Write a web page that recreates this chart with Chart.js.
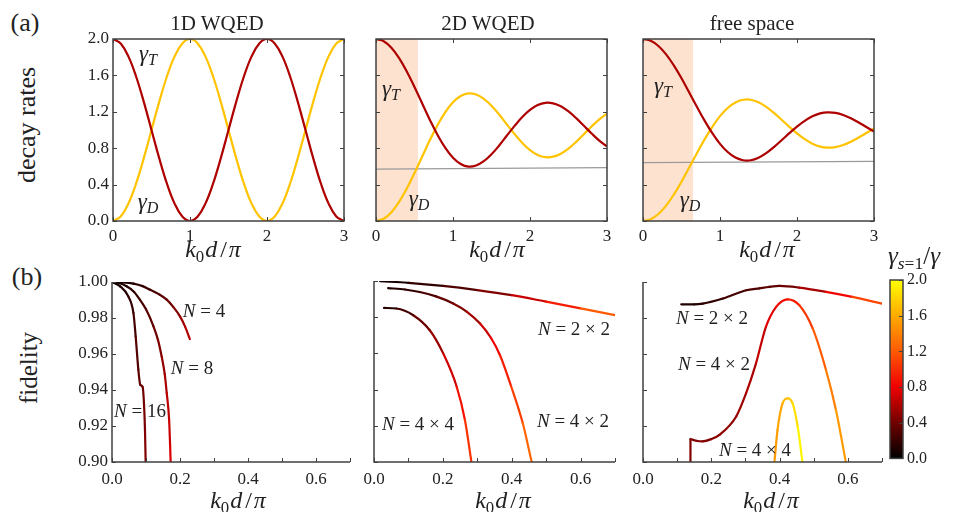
<!DOCTYPE html>
<html>
<head>
<meta charset="utf-8">
<script src="https://cdn.jsdelivr.net/npm/chart.js@4.4.1/dist/chart.umd.min.js"></script>
<style>
  body { margin: 0; background: #fff; }
  #wrap { position: relative; width: 958px; height: 512px; overflow: hidden; background: #fff;
          font-family: 'Liberation Serif', 'Times New Roman', serif; color: #222; }
  canvas { position: absolute; }
  .lbl { position: absolute; white-space: nowrap; transform: translate(-50%, -50%); line-height: 1; }
  .lbl i { font-style: italic; }
  .lbl sub { font-size: 0.7em; vertical-align: -0.3em; line-height: 0; }
  .rot { transform: translate(-50%, -50%) rotate(-90deg); }
  .kd sub { margin-right: 1px; }
  .kd .sl { margin: 0 2px 0 3px; }
</style>
</head>
<body>
<div id="wrap">
  <canvas id="t1" width="303" height="228" style="left:53px;top:23px"></canvas>
  <canvas id="t2" width="263" height="228" style="left:356px;top:23px"></canvas>
  <canvas id="t3" width="263" height="228" style="left:623px;top:23px"></canvas>
  <canvas id="b1" width="310" height="226" style="left:52px;top:266px"></canvas>
  <canvas id="b2" width="273" height="227" style="left:354px;top:265px"></canvas>
  <canvas id="b3" width="271" height="226" style="left:623px;top:266px"></canvas>
  <canvas id="cb" width="57" height="208" style="left:886px;top:264px"></canvas>
</div>
<script>
// ---- decay rates (top row), k0d/pi from 0 to 3 ----
const kd = [0, 0.1, 0.2, 0.3, 0.4, 0.5, 0.6, 0.7, 0.8, 0.9, 1.0, 1.1, 1.2, 1.3, 1.4, 1.5,
            1.6, 1.7, 1.8, 1.9, 2.0, 2.1, 2.2, 2.3, 2.4, 2.5, 2.6, 2.7, 2.8, 2.9, 3.0];

const gT_1d = [2, 1.951, 1.809, 1.588, 1.309, 1, 0.691, 0.412, 0.191, 0.049, 0, 0.049, 0.191, 0.412, 0.691, 1,
               1.309, 1.588, 1.809, 1.951, 2, 1.951, 1.809, 1.588, 1.309, 1, 0.691, 0.412, 0.191, 0.049, 0];
const gD_1d = [0, 0.049, 0.191, 0.412, 0.691, 1, 1.309, 1.588, 1.809, 1.951, 2, 1.951, 1.809, 1.588, 1.309, 1,
               0.691, 0.412, 0.191, 0.049, 0, 0.049, 0.191, 0.412, 0.691, 1, 1.309, 1.588, 1.809, 1.951, 2];

const gT_2d = [2, 1.976, 1.904, 1.790, 1.643, 1.472, 1.291, 1.111, 0.945, 0.804, 0.696, 0.627, 0.598, 0.610, 0.657, 0.733,
               0.830, 0.940, 1.045, 1.142, 1.220, 1.274, 1.299, 1.293, 1.260, 1.204, 1.130, 1.046, 0.962, 0.883, 0.819];
const gD_2d = [0, 0.024, 0.096, 0.210, 0.357, 0.528, 0.709, 0.889, 1.055, 1.196, 1.304, 1.373, 1.402, 1.390, 1.343, 1.267,
               1.170, 1.060, 0.955, 0.858, 0.780, 0.726, 0.701, 0.707, 0.740, 0.796, 0.870, 0.954, 1.038, 1.117, 1.181];

const gT_fs = [2, 1.980, 1.923, 1.831, 1.710, 1.568, 1.413, 1.255, 1.103, 0.965, 0.848, 0.758, 0.697, 0.668, 0.668, 0.696,
               0.746, 0.812, 0.887, 0.965, 1.038, 1.101, 1.150, 1.182, 1.194, 1.188, 1.165, 1.129, 1.083, 1.033, 0.983];
const gD_fs = [0, 0.020, 0.077, 0.169, 0.290, 0.432, 0.587, 0.745, 0.897, 1.035, 1.152, 1.242, 1.303, 1.332, 1.332, 1.304,
               1.254, 1.188, 1.113, 1.035, 0.962, 0.899, 0.850, 0.818, 0.806, 0.812, 0.835, 0.871, 0.917, 0.967, 1.017];

// grey reference line and shaded band
const ref_x = [0, 3];
const ref_2d = [0.571, 0.586];
const ref_fs = [0.641, 0.656];
const shade_2d = [0, 0.545];
const shade_fs = [0, 0.652];

// ---- fidelity (bottom row); g_* = gamma_{s=1}/gamma used for colour ----
const n4_x = [0, 0.03, 0.063, 0.09, 0.112, 0.14, 0.161, 0.18, 0.2, 0.215, 0.229];
const n4_y = [1.0, 0.9998, 0.9991, 0.9977, 0.9957, 0.9930, 0.9902, 0.9862, 0.9809, 0.9752, 0.9683];
const n4_g = [0.05, 0.08, 0.12, 0.18, 0.22, 0.3, 0.35, 0.42, 0.5, 0.58, 0.65];

const n8_x = [0, 0.02, 0.043, 0.065, 0.082, 0.1, 0.122, 0.135, 0.146, 0.155, 0.161, 0.168, 0.171, 0.1725];
const n8_y = [1.0, 0.9995, 0.9976, 0.9945, 0.9902, 0.9848, 0.9754, 0.968, 0.9587, 0.949, 0.9383, 0.9235, 0.9087, 0.90];
const n8_g = [0.05, 0.08, 0.12, 0.17, 0.22, 0.28, 0.36, 0.42, 0.48, 0.54, 0.6, 0.66, 0.71, 0.75];

const n16_x = [0, 0.024, 0.048, 0.063, 0.0696, 0.0775, 0.083, 0.090, 0.094, 0.097, 0.099];
const n16_y = [1.0, 0.9976, 0.992, 0.9828, 0.9698, 0.9513, 0.943, 0.9417, 0.9328, 0.918, 0.90];
const n16_g = [0.05, 0.1, 0.16, 0.22, 0.27, 0.32, 0.36, 0.38, 0.41, 0.44, 0.47];

const w22_x = [0.018, 0.1, 0.2, 0.3, 0.4, 0.5, 0.6, 0.7];
const w22_y = [0.9999, 0.9990, 0.9973, 0.9950, 0.9922, 0.9886, 0.9849, 0.9811];
const w22_g = [0.05, 0.12, 0.22, 0.35, 0.55, 0.8, 1.05, 1.35];

const w42_x = [0.041, 0.09, 0.133, 0.18, 0.23, 0.27, 0.308, 0.34, 0.366, 0.398, 0.432, 0.458];
const w42_y = [0.9961, 0.9953, 0.9939, 0.9915, 0.9876, 0.9830, 0.9765, 0.9685, 0.9590, 0.9420, 0.9215, 0.90];
const w42_g = [0.1, 0.15, 0.22, 0.3, 0.4, 0.5, 0.62, 0.75, 0.85, 1.0, 1.15, 1.35];

const w44_x = [0.029, 0.065, 0.114, 0.162, 0.201, 0.24, 0.264, 0.283];
const w44_y = [0.9851, 0.9848, 0.9811, 0.9728, 0.96, 0.9417, 0.9233, 0.90];
const w44_g = [0.1, 0.18, 0.3, 0.45, 0.6, 0.8, 0.95, 1.1];

const f22_x = [0.112, 0.15, 0.175, 0.234, 0.302, 0.341, 0.37, 0.4, 0.457, 0.536, 0.613, 0.70];
const f22_y = [0.9876, 0.9876, 0.988, 0.9908, 0.9954, 0.9965, 0.9973, 0.9978, 0.9969, 0.9945, 0.9917, 0.988];
const f22_g = [0.1, 0.12, 0.14, 0.2, 0.27, 0.3, 0.33, 0.35, 0.45, 0.7, 0.95, 1.25];

const f42_x = [0.139, 0.156, 0.175, 0.2, 0.224, 0.273, 0.302, 0.331, 0.36, 0.39, 0.424, 0.458, 0.497, 0.536, 0.565, 0.594];
const f42_y = [0.9128, 0.9118, 0.9115, 0.9127, 0.9151, 0.9253, 0.9382, 0.9548, 0.9751, 0.9862, 0.9904, 0.9871, 0.9742, 0.9511, 0.929, 0.90];
const f42_g = [0.45, 0.45, 0.46, 0.47, 0.48, 0.52, 0.56, 0.62, 0.7, 0.8, 0.88, 0.98, 1.12, 1.3, 1.45, 1.6];
const f42_stem_x = [0.139, 0.139];
const f42_stem_y = [0.90, 0.9128];

const f44_x = [0.385, 0.394, 0.409, 0.424, 0.438, 0.453, 0.467];
const f44_y = [0.90, 0.9179, 0.9327, 0.9354, 0.9327, 0.9197, 0.90];
const f44_g = [1.5, 1.55, 1.62, 1.7, 1.8, 1.9, 2.0];

// colour map of the colour bar (value -> rgb)
const cmapStops = [[0, [0, 0, 0]], [0.4, [112, 0, 0]], [0.8, [240, 0, 0]],
                   [1.2, [255, 90, 0]], [1.6, [255, 170, 0]], [2.0, [255, 255, 0]]];

const FONT = "'Liberation Serif', 'Times New Roman', serif";
const RED = '#ae0000';
const YEL = '#ffc300';
const SHADE = 'rgb(253, 226, 208)';

function cmap(v) {
  v = Math.max(0, Math.min(2, v));
  for (let i = 1; i < cmapStops.length; i++) {
    const [v1, c1] = cmapStops[i];
    const [v0, c0] = cmapStops[i - 1];
    if (v <= v1) {
      const t = (v - v0) / (v1 - v0);
      const c = c0.map((a, k) => Math.round(a + (c1[k] - a) * t));
      return `rgb(${c[0]},${c[1]},${c[2]})`;
    }
  }
  return 'rgb(255,255,0)';
}

const pts = (xs, ys) => xs.map((x, i) => ({ x: x, y: ys[i] }));

// box / spines and inward tick marks
const framePlugin = {
  id: 'frame',
  afterDatasetsDraw(chart, args, opts) {
    const { ctx, chartArea: a, scales } = chart;
    ctx.save();
    ctx.strokeStyle = '#404040';
    ctx.lineWidth = 1.5;
    if (opts.box) {
      ctx.strokeRect(a.left, a.top, a.right - a.left, a.bottom - a.top);
    } else {
      ctx.beginPath();
      ctx.moveTo(a.left, a.top);
      ctx.lineTo(a.left, a.bottom);
      ctx.lineTo(a.right, a.bottom);
      ctx.stroke();
    }
    ctx.lineWidth = 1;
    const len = 4;
    if (scales.x && opts.xticks !== false) {
      scales.x.ticks.forEach(t => {
        const p = Math.round(scales.x.getPixelForValue(t.value)) + 0.5;
        ctx.beginPath();
        ctx.moveTo(p, a.bottom); ctx.lineTo(p, a.bottom - len);
        if (opts.box) { ctx.moveTo(p, a.top); ctx.lineTo(p, a.top + len); }
        ctx.stroke();
      });
    }
    if (scales.y) {
      scales.y.ticks.forEach(t => {
        const p = Math.round(scales.y.getPixelForValue(t.value)) + 0.5;
        ctx.beginPath();
        if (opts.yright) { ctx.moveTo(a.right, p); ctx.lineTo(a.right - len, p); }
        else {
          ctx.moveTo(a.left, p); ctx.lineTo(a.left + len, p);
          if (opts.box) { ctx.moveTo(a.right, p); ctx.lineTo(a.right - len, p); }
        }
        ctx.stroke();
      });
    }
    ctx.restore();
  }
};

function makePanel(id, datasets, o) {
  return new Chart(document.getElementById(id), {
    type: 'line',
    data: { datasets: datasets },
    options: {
      responsive: false,
      animation: false,
      layout: { padding: { top: 16, right: 12, left: 0, bottom: 0 } },
      plugins: { legend: { display: false }, tooltip: { enabled: false }, frame: { box: o.box } },
      elements: { point: { radius: 0 } },
      scales: {
        x: {
          type: 'linear', min: o.xmin, max: o.xmax,
          grid: { display: false, drawTicks: false }, border: { display: false },
          ticks: { stepSize: o.xstep, autoSkip: false, maxRotation: 0, padding: o.xpad, color: '#222',
                   font: { family: FONT, size: 17 }, callback: o.xfmt },
          afterFit: s => { s.height = 30; }
        },
        y: {
          min: o.ymin, max: o.ymax,
          grid: { display: false, drawTicks: false }, border: { display: false },
          ticks: { stepSize: o.ystep, display: o.ylabels, padding: 4, color: '#222',
                   font: { family: FONT, size: 17 }, callback: o.yfmt },
          afterFit: s => { s.width = o.ylabels ? 60 : 20; }
        }
      }
    },
    plugins: [framePlugin]
  });
}

function rateSets(T, D, ref, shade) {
  const sets = [
    { data: pts(kd, T), borderColor: RED, borderWidth: 2.2, tension: 0.4, order: 1 },
    { data: pts(kd, D), borderColor: YEL, borderWidth: 2.2, tension: 0.4, order: 2 }
  ];
  if (ref) sets.push({ data: pts(ref_x, ref), borderColor: '#9a9a9a', borderWidth: 1.2, order: 3 });
  if (shade) sets.push({ data: pts(shade, [2, 2]), borderWidth: 0, borderColor: 'rgba(0,0,0,0)',
                         backgroundColor: SHADE, fill: 'start', order: 9 });
  return sets;
}

const topOpts = (ylabels) => ({
  box: true, xmin: 0, xmax: 3, xstep: 1, xpad: 5, xfmt: v => String(Math.round(v)),
  ymin: 0, ymax: 2, ystep: 0.4, ylabels: ylabels, yfmt: v => v.toFixed(1)
});

makePanel('t1', rateSets(gT_1d, gD_1d), topOpts(true));
makePanel('t2', rateSets(gT_2d, gD_2d, ref_2d, shade_2d), topOpts(false));
makePanel('t3', rateSets(gT_fs, gD_fs, ref_fs, shade_fs), topOpts(false));

function curve(xs, ys, gs) {
  return {
    data: pts(xs, ys), borderWidth: 2.2, cubicInterpolationMode: 'monotone',
    borderColor: cmap(gs[0]), borderCapStyle: 'round',
    segment: { borderColor: c => cmap((gs[c.p0DataIndex] + gs[c.p1DataIndex]) / 2) }
  };
}

const botOpts = (ylabels) => ({
  box: false, xmin: 0, xmax: 0.7, xstep: 0.1, xpad: 7,
  xfmt: v => (Math.round(v * 10) % 2 === 0 && v < 0.65) ? v.toFixed(1) : '',
  ymin: 0.9, ymax: 1.0, ystep: 0.02, ylabels: ylabels, yfmt: v => v.toFixed(2)
});

makePanel('b1', [curve(n4_x, n4_y, n4_g), curve(n8_x, n8_y, n8_g), curve(n16_x, n16_y, n16_g)], botOpts(true));
makePanel('b2', [curve(w22_x, w22_y, w22_g), curve(w42_x, w42_y, w42_g), curve(w44_x, w44_y, w44_g)], botOpts(false));
makePanel('b3', [curve(f22_x, f22_y, f22_g), curve(f42_x, f42_y, f42_g),
                 { data: pts(f42_stem_x, f42_stem_y), borderColor: cmap(f42_g[0]), borderWidth: 2.2 },
                 curve(f44_x, f44_y, f44_g)], botOpts(false));

// colour bar
new Chart(document.getElementById('cb'), {
  type: 'bar',
  data: {
    labels: ['g'],
    datasets: [{
      data: [[0, 2]], barPercentage: 1, categoryPercentage: 1, borderWidth: 0,
      backgroundColor: c => {
        const ys = c.chart.scales.y;
        if (!c.chart.chartArea || !ys) return '#800';
        const y0 = ys.getPixelForValue(0), y1 = ys.getPixelForValue(2);
        if (!isFinite(y0) || !isFinite(y1)) return '#800';
        const g = c.chart.ctx.createLinearGradient(0, y0, 0, y1);
        cmapStops.forEach(([v, rgb]) => g.addColorStop(v / 2, `rgb(${rgb.join(',')})`));
        return g;
      }
    }]
  },
  options: {
    responsive: false, animation: false,
    layout: { padding: { top: 16, bottom: 10, left: 4, right: 0 } },
    plugins: { legend: { display: false }, tooltip: { enabled: false }, frame: { box: true, xticks: false, yright: true } },
    scales: {
      x: { display: false },
      y: {
        position: 'right', min: 0, max: 2,
        grid: { display: false, drawTicks: false }, border: { display: false },
        ticks: { stepSize: 0.4, padding: 4, color: '#222', font: { family: FONT, size: 16 }, callback: v => v.toFixed(1) },
        afterFit: s => { s.width = 40; }
      }
    }
  },
  plugins: [framePlugin]
});

// text labels
const kdHtml = '<span class="kd"><i>k</i><sub>0</sub><i>d</i><span class="sl">/</span><i>π</i></span>';
const texts = [
  ['(a)', 25, 23, 26], ['(b)', 27, 277, 26],
  ['1D WQED', 217, 23, 21], ['2D WQED', 488, 23, 21], ['free space', 752, 23, 21],
  ['decay rates', 27, 125, 26, true], ['fidelity', 28, 368, 25, true],
  [kdHtml, 213, 249, 24], [kdHtml, 497, 249, 24], [kdHtml, 767, 249, 24],
  [kdHtml, 238, 500, 24], [kdHtml, 503, 500, 24], [kdHtml, 771, 500, 24],
  ['<i>γ</i><sub><i>T</i></sub>', 148, 53, 23], ['<i>γ</i><sub><i>D</i></sub>', 148, 201, 23],
  ['<i>γ</i><sub><i>T</i></sub>', 391, 88, 23], ['<i>γ</i><sub><i>D</i></sub>', 419, 198, 23],
  ['<i>γ</i><sub><i>T</i></sub>', 663, 85, 23], ['<i>γ</i><sub><i>D</i></sub>', 690, 199, 23],
  ['<i>N</i> = 4', 204, 310, 19], ['<i>N</i> = 8', 192, 367, 19], ['<i>N</i> = 16', 140, 410, 19],
  ['<i>N</i> = 2 × 2', 574, 328, 19], ['<i>N</i> = 4 × 4', 418, 423, 19], ['<i>N</i> = 4 × 2', 573, 420, 19],
  ['<i>N</i> = 2 × 2', 712, 317, 19], ['<i>N</i> = 4 × 2', 714, 363, 19], ['<i>N</i> = 4 × 4', 755, 449, 19],
  ['<i>γ</i><sub><i>s</i>=1</sub>/<i>γ</i>', 914, 255, 25]
];
const wrap = document.getElementById('wrap');
texts.forEach(([html, x, y, size, rot]) => {
  const d = document.createElement('div');
  d.className = 'lbl' + (rot ? ' rot' : '');
  d.innerHTML = html;
  d.style.left = x + 'px';
  d.style.top = y + 'px';
  d.style.fontSize = size + 'px';
  wrap.appendChild(d);
});
</script>
</body>
</html>
